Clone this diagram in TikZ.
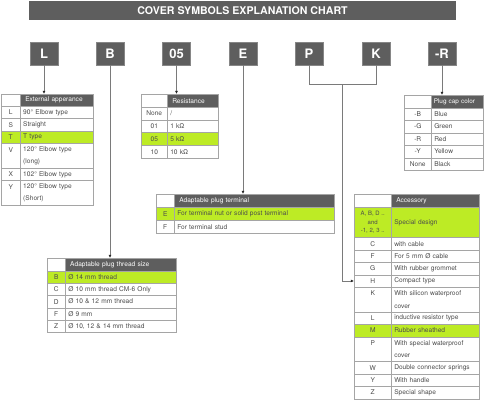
\documentclass[tikz,border=0pt]{standalone}
\usepackage{fontspec}
\setmainfont{TeX Gyre Heros}
\usetikzlibrary{arrows.meta,positioning,calc}
\definecolor{CoverDark}{HTML}{5E5E5E}
\definecolor{CoverLime}{HTML}{BDEB25}
\definecolor{CoverLine}{HTML}{A5A5A5}
\definecolor{CoverText}{HTML}{4C4C4C}
\definecolor{CoverWire}{HTML}{7A7A7A}
\tikzset{
  figtitle/.style={fill=CoverDark, text=white, inner sep=0pt,
                   font=\fontsize{10.6}{12}\selectfont\bfseries,
                   minimum width=427, minimum height=19},
  codebox/.style={fill=CoverDark, draw=CoverDark!75, line width=0.6pt, text=white,
                  inner sep=0pt, font=\fontsize{13}{14}\selectfont\bfseries,
                  minimum width=28, minimum height=23},
  cellbase/.style={draw=CoverLine, line width=0.5pt, inner sep=0pt, anchor=north west,
                   font=\fontsize{6.6}{12.4}\selectfont, text=CoverText},
  blankcell/.style={cellbase, fill=white},
  hdcell/.style={cellbase, fill=CoverDark, text=white!92, align=left, inner xsep=5pt},
  codecell/.style={cellbase, align=center},
  desccell/.style={cellbase, align=left, inner xsep=3pt},
  wireline/.style={draw=CoverWire, line width=0.7pt},
  wire/.style={wireline, -{Latex[length=3.2pt,width=3pt,color=black!85]}},
}

\begin{document}
\begin{tikzpicture}[x=1pt, y=-1pt]
  \useasboundingbox (0,0) rectangle (488,400);

  % ---- Title bar ----
  \node[figtitle] (title) at (242.5,10.5) {COVER SYMBOLS EXPLANATION CHART};

  % ---- Code letters ----
  \foreach \n/\t/\x in {cL/L/44, cB/B/110, c05/05/176.5, cE/E/243, cP/P/309, cK/K/376, cR/-R/442}
    \node[codebox] (\n) at (\x,53.5) {\t};

  % ---- External appearance ----
  \node[blankcell, minimum width=19, minimum height=12] (exth0) at (1,94) {};
  \node[hdcell, text width=63, minimum height=12] (exth) at (20,94) {External apperance};
  \foreach \c/\d/\y/\h/\f [count=\i] in {L/90° Elbow type/106/12.4/white,
      S/Straight/118.4/12.4/white, T/T type/130.8/12.4/CoverLime,
      {V\\~}/{120° Elbow type\\(long)}/143.2/24.8/white, X/102° Elbow type/168/12.4/white,
      {Y\\~}/{120° Elbow type\\(Short)}/180.4/24.8/white}{
    \node[codecell, fill=\f, minimum width=19, minimum height=\h] (ext\i c) at (1,\y) {\c};
    \node[desccell, fill=\f, text width=67, minimum height=\h] (ext\i d) at (20,\y) {\d};
  }

  % ---- Resistance ----
  \node[blankcell, minimum width=26, minimum height=12.8] (resh0) at (141,94) {};
  \node[hdcell, text width=41, minimum height=12.8] (resh) at (167,94) {Resistance};
  \foreach \c/\d/\y/\f [count=\i] in {None/\slash/106.8/white, 01/1 kΩ/119.6/white,
      05/5 kΩ/132.4/CoverLime, 10/10 kΩ/145.2/white}{
    \node[codecell, fill=\f, minimum width=26, minimum height=12.8] (res\i c) at (141,\y) {\c};
    \node[desccell, fill=\f, text width=45, minimum height=12.8] (res\i d) at (167,\y) {\d};
  }

  % ---- Plug cap color ----
  \node[blankcell, minimum width=27, minimum height=12.5] (caph0) at (404,95) {};
  \node[hdcell, inner xsep=2.5pt, text width=47, minimum height=12.5,
        font=\fontsize{6.4}{12.4}\selectfont] (caph) at (431,95) {Plug cap color};
  \foreach \c/\d/\y [count=\i] in {-B/Blue/107.5, -G/Green/120, -R/Red/132.5,
      -Y/Yellow/145, None/Black/157.5}{
    \node[codecell, fill=white, minimum width=27, minimum height=12.5] (cap\i c) at (404,\y) {\c};
    \node[desccell, fill=white, text width=46, minimum height=12.5] (cap\i d) at (431,\y) {\d};
  }

  % ---- Adaptable plug terminal ----
  \node[blankcell, minimum width=18, minimum height=13] (termh0) at (156,194) {};
  \node[hdcell, text width=150, minimum height=13] (termh) at (174,194) {Adaptable plug terminal};
  \foreach \c/\d/\y/\f [count=\i] in {E/For terminal nut or solid post terminal/207/CoverLime,
      F/For terminal stud/220/white}{
    \node[codecell, fill=\f, minimum width=18, minimum height=13] (term\i c) at (156,\y) {\c};
    \node[desccell, fill=\f, text width=154, minimum height=13] (term\i d) at (174,\y) {\d};
  }

  % ---- Adaptable plug thread size ----
  \node[blankcell, minimum width=18, minimum height=12.6] (thrh0) at (47,258) {};
  \node[hdcell, text width=101, minimum height=12.6] (thrh) at (65,258) {Adaptable plug thread size};
  \foreach \c/\d/\y/\f [count=\i] in {B/Ø 14 mm thread/270.6/CoverLime,
      C/Ø 10 mm thread CM-6 Only/282.9/white, D/Ø 10 \& 12 mm thread/295.2/white,
      F/Ø 9 mm/307.5/white, Z/{Ø 10, 12 \& 14 mm thread}/319.8/white}{
    \node[codecell, fill=\f, minimum width=18, minimum height=12.3] (thr\i c) at (47,\y) {\c};
    \node[desccell, fill=\f, text width=105, minimum height=12.3] (thr\i d) at (65,\y) {\d};
  }

  % ---- Accessory ----
  \node[blankcell, minimum width=37, minimum height=13.3] (acch0) at (354,194) {};
  \node[hdcell, text width=78, minimum height=13.3] (acch) at (391,194) {Accessory};
  \node[codecell, fill=CoverLime, minimum width=37, minimum height=30,
        font=\fontsize{6}{8.6}\selectfont] (acc1c) at (354,207.3) {A, B, D ..\\and\\-1, 2, 3 ..};
  \node[desccell, fill=CoverLime, text width=82, minimum height=30] (acc1d) at (391,207.3) {Special design};
  \foreach \c/\d/\y/\h/\f [count=\i from 2] in {C/with cable/237.3/12.4/white,
      F/For 5 mm Ø cable/249.7/12.4/white, G/With rubber grommet/262.1/12.4/white,
      H/Compact type/274.5/12.4/white,
      {K\\~}/{With silicon waterproof\\cover}/286.9/24.8/white,
      L/inductive resistor type/311.7/12.4/white, M/Rubber sheathed/324.1/12.4/CoverLime,
      {P\\~}/{With special waterproof\\cover}/336.5/24.8/white,
      W/Double connector springs/361.3/12.4/white, Y/With handle/373.7/12.4/white,
      Z/Special shape/386.1/12.4/white}{
    \node[codecell, fill=\f, minimum width=37, minimum height=\h] (acc\i c) at (354,\y) {\c};
    \node[desccell, fill=\f, text width=82, minimum height=\h] (acc\i d) at (391,\y) {\d};
  }

  % ---- Connectors ----
  \draw[wire] (cL.south) -- (cL.south |- exth.north);
  \draw[wire] (cB.south) -- (cB.south |- thrh.north);
  \draw[wire] (c05.south) -- (c05.south |- resh.north);
  \draw[wire] (cE.south) -- (cE.south |- termh.north);
  \draw[wire] (cR.south) -- (cR.south |- caph.north);
  \coordinate (pkjoin) at ($(cP.south)!0.5!(cK.south)+(0,19.5)$);
  \draw[wireline] (cP.south) |- (pkjoin) -| (cK.south);
  \draw[wire] (pkjoin) |- (acc5c.west);

\end{tikzpicture}
\end{document}
